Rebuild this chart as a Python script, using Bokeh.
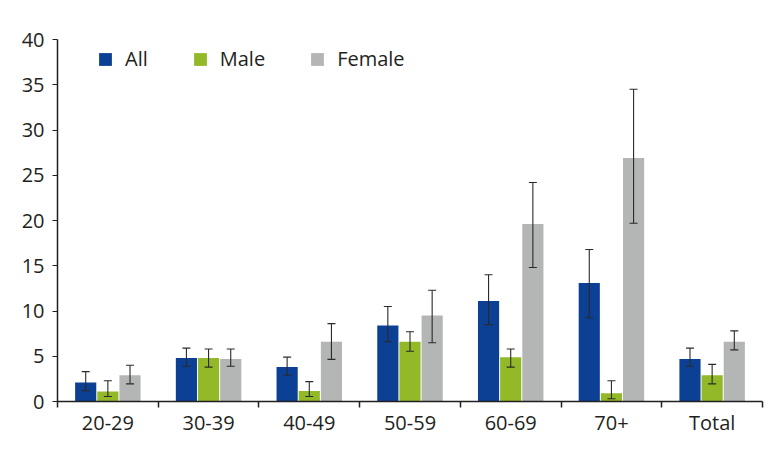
from bokeh.plotting import figure
from bokeh.models import (ColumnDataSource, Range1d, FixedTicker, Whisker, TeeHead,
                          Legend, LegendItem)
from bokeh.embed import file_html
from bokeh.resources import INLINE

categories = ["20-29", "30-39", "40-49", "50-59", "60-69", "70+", "Total"]
series_names = ["All", "Male", "Female"]

all_vals = [2.1, 4.8, 3.8, 8.4, 11.1, 13.1, 4.7]
all_lo = [1.2, 3.9, 2.9, 6.6, 8.5, 9.25, 3.9]
all_hi = [3.3, 5.9, 4.9, 10.5, 14.0, 16.8, 5.9]

male_vals = [1.1, 4.8, 1.15, 6.6, 4.9, 0.92, 2.9]
male_lo = [0.55, 3.8, 0.55, 5.55, 3.8, 0.3, 1.95]
male_hi = [2.3, 5.8, 2.2, 7.7, 5.8, 2.3, 4.1]

female_vals = [2.9, 4.7, 6.6, 9.5, 19.6, 26.9, 6.6]
female_lo = [1.95, 3.9, 4.65, 6.5, 14.8, 19.7, 5.7]
female_hi = [4.0, 5.8, 8.6, 12.3, 24.2, 34.5, 7.8]

y_ticks = [0, 5, 10, 15, 20, 25, 30, 35, 40]

colors = ["#0b4095", "#93b928", "#b4b5b5"]
FONT = "Open Sans"
TEXT = "#231f20"

W, H = 770, 450
LEFT, TOP, RIGHT_EDGE, BOTTOM_EDGE = 57, 39, 762, 401
p = figure(width=W, height=H, output_backend="svg", toolbar_location=None,
           x_range=Range1d(0, len(categories)), y_range=Range1d(0, 40),
           min_border_left=LEFT, min_border_right=W - RIGHT_EDGE, min_border_top=TOP,
           min_border_bottom=H - BOTTOM_EDGE)
p.outline_line_color = None
p.xgrid.visible = False
p.ygrid.visible = False
p.background_fill_color = "white"

offsets = [-0.22, 0.0, 0.22]
bar_w = 0.21
data = [(all_vals, all_lo, all_hi), (male_vals, male_lo, male_hi),
        (female_vals, female_lo, female_hi)]

renderers = []
for (vals, lo, hi), off, col, name in zip(data, offsets, colors, series_names):
    xs = [i + 0.5 + off for i in range(len(categories))]
    src = ColumnDataSource(dict(x=xs, top=vals, lower=lo, upper=hi))
    r = p.vbar(x="x", top="top", width=bar_w, bottom=0, source=src,
               fill_color=col, line_color=None)
    renderers.append((name, r))
    w = Whisker(base="x", upper="upper", lower="lower", source=src, level="overlay",
                line_color="#2a2a2a", line_width=1.1,
                upper_head=TeeHead(size=8, line_color="#2a2a2a", line_width=1.1),
                lower_head=TeeHead(size=8, line_color="#2a2a2a", line_width=1.1))
    p.add_layout(w)

# x axis: labels at centers, small ticks at category boundaries
centers = [i + 0.5 for i in range(len(categories))]
bounds = list(range(len(categories) + 1))
p.xaxis.ticker = FixedTicker(ticks=centers, minor_ticks=bounds)
p.xaxis.major_label_overrides = {c: lab for c, lab in zip(centers, categories)}
p.xaxis.major_tick_line_color = None
p.xaxis.major_tick_out = 0
p.xaxis.major_tick_in = 0
p.xaxis.minor_tick_line_color = "#231f20"
p.xaxis.minor_tick_out = 6
p.xaxis.minor_tick_in = 0
p.xaxis.minor_tick_line_width = 1.5
p.xaxis.axis_line_color = "#231f20"
p.xaxis.axis_line_width = 1.5
p.xaxis.major_label_text_font = FONT
p.xaxis.major_label_text_font_size = "20px"
p.xaxis.major_label_text_color = TEXT
p.xaxis.major_label_standoff = 1

p.yaxis.ticker = FixedTicker(ticks=y_ticks, minor_ticks=[])
p.yaxis.axis_line_color = "#231f20"
p.yaxis.axis_line_width = 1.5
p.yaxis.major_tick_line_color = "#231f20"
p.yaxis.major_tick_out = 5
p.yaxis.major_tick_in = 0
p.yaxis.major_label_text_font = FONT
p.yaxis.major_label_text_font_size = "20px"
p.yaxis.major_label_text_color = TEXT
p.yaxis.major_label_standoff = 8

frame_h = BOTTOM_EDGE - TOP
legend = Legend(items=[LegendItem(label=n, renderers=[r]) for n, r in renderers],
                orientation="horizontal", location=(40, frame_h - 13 - 20),
                border_line_color=None, background_fill_alpha=0,
                padding=0, margin=0, spacing=44, label_standoff=12,
                glyph_width=16, glyph_height=16,
                label_text_font=FONT, label_text_font_size="20px",
                label_text_color=TEXT)
p.add_layout(legend, "center")

open("out.html", "w").write(file_html(p, INLINE))
